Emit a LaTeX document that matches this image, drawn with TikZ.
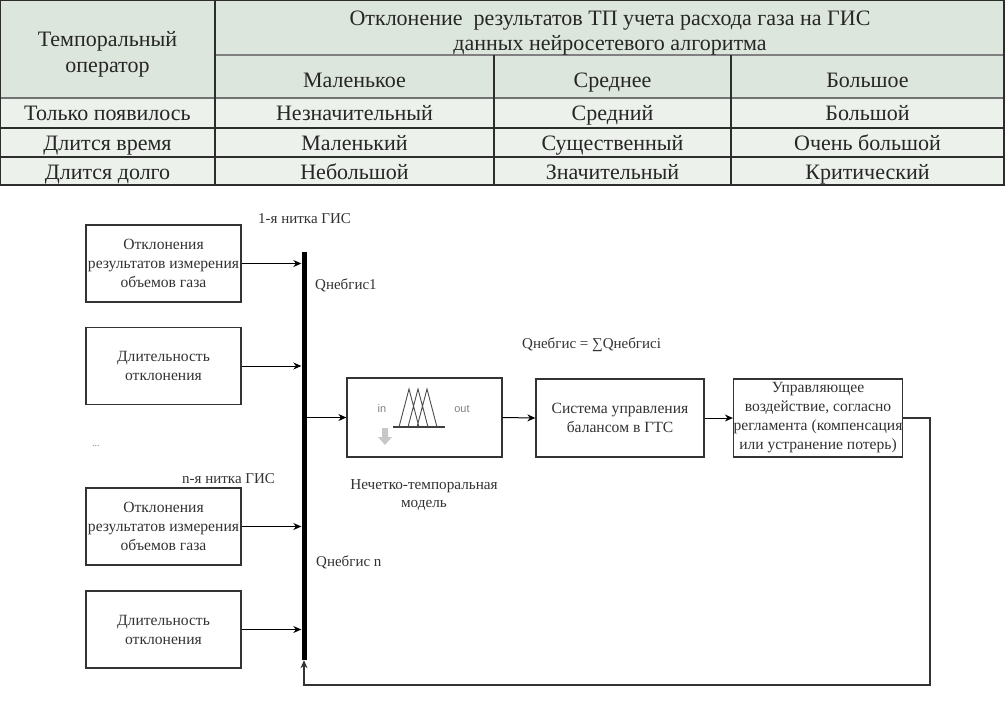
\documentclass[tikz,border=0pt]{standalone}
\usepackage{fontspec}
\setmainfont{Liberation Serif}
\newfontfamily\sansf{Liberation Sans}
\usetikzlibrary{arrows.meta}
\definecolor{hdr}{RGB}{221,230,220}
\definecolor{bdy}{RGB}{236,241,235}
\definecolor{gridc}{RGB}{45,45,45}
\definecolor{txt}{RGB}{50,50,50}
\begin{document}
\begin{tikzpicture}[x=1pt,y=-1pt,
  tcell/.style={font=\fontsize{22}{26}\selectfont, text=black!85, inner sep=0, anchor=base},
  box/.style={draw=black!80, line width=1.3pt, minimum width=155pt, minimum height=77pt, align=center, font=\fontsize{15.6}{19}\selectfont, text=txt, inner sep=0},
  lbl/.style={font=\fontsize{15}{17}\selectfont, text=txt, inner sep=0, anchor=west},
  arr/.style={-{Stealth[length=8pt,width=7pt]}, line width=1pt, black}
]
\useasboundingbox (0,0) rectangle (1006,705);
% ---------- table ----------
\fill[hdr] (0,0) rectangle (1004,98);
\fill[bdy] (0,98) rectangle (1004,185);
\draw[gray, line width=2pt] (215,55) -- (1004,55);
\draw[gray!90!black, line width=2pt] (0,98) -- (1004,98);
\draw[gridc, line width=1.2pt] (0,128) -- (1004,128) (0,157) -- (1004,157);
\draw[gridc, line width=1.2pt] (215,0) -- (215,185) (494,55) -- (494,185) (731,55) -- (731,185);
\draw[gridc, line width=1.4pt] (0,0) rectangle (1004,185);
\node[tcell] (h0a) at (107.5,46) {Темпоральный};
\node[tcell] (h0b) at (107.5,72) {оператор};
\node[tcell] (h1a) at (610,25) {Отклонение\ \ результатов ТП учета расхода газа на ГИС};
\node[tcell] (h1b) at (610,50) {данных нейросетевого алгоритма};
\node[tcell] (c1) at (354.5,87) {Маленькое};
\node[tcell] (c2) at (612.5,87) {Среднее};
\node[tcell] (c3) at (867.5,87) {Большое};
\node[tcell] (r1) at (107.5,120) {Только появилось};
\node[tcell] (r2) at (107.5,150) {Длится время};
\node[tcell] (r3) at (107.5,179) {Длится долго};
\node[tcell] (r1a) at (354.5,120) {Незначительный};
\node[tcell] (r1b) at (612.5,120) {Средний};
\node[tcell] (r1c) at (867.5,120) {Большой};
\node[tcell] (r2a) at (354.5,150) {Маленький};
\node[tcell] (r2b) at (612.5,150) {Существенный};
\node[tcell] (r2c) at (867.5,150) {Очень большой};
\node[tcell] (r3a) at (354.5,179) {Небольшой};
\node[tcell] (r3b) at (612.5,179) {Значительный};
\node[tcell] (r3c) at (867.5,179) {Критический};
% ---------- diagram ----------
\node[box] (b1) at (163.5,263.5) {Отклонения\\результатов измерения\\объемов газа};
\node[box] (b2) at (163.5,366) {Длительность\\отклонения};
\node[box] (b3) at (163.5,526.5) {Отклонения\\результатов измерения\\объемов газа};
\node[box] (b4) at (163.5,629.5) {Длительность\\отклонения};
\node[fill=black, minimum width=5pt, minimum height=408pt, inner sep=0] (bar) at (304,456) {};
\node[box, minimum height=79pt] (fz) at (424.5,417.5) {};
\node[box, minimum width=168pt, minimum height=78pt] (b5) at (620,418) {Система управления\\балансом в ГТС};
\node[box, minimum width=168pt, minimum height=78pt] (b6) at (818,418) {Управляющее\\воздействие, согласно\\регламента (компенсация\\или устранение потерь)};
\coordinate (fb) at (930,685);
% fuzzy icon
\draw[black!75, line width=1.2pt] (393,427) -- (445,427);
\draw[black!70, line width=0.9pt] (399,427) -- (409,389) -- (419,427) (408,427) -- (418,389) -- (428,427) (417,427) -- (427,389) -- (437,427);
\fill[black!22] (382,428) rectangle (388,437) (378,437) -- (392,437) -- (385,445) -- cycle;
\node[font=\sansf\fontsize{11}{13}\selectfont, text=black!50, inner sep=0] (in) at (382,409) {in};
\node[font=\sansf\fontsize{11}{13}\selectfont, text=black!50, inner sep=0] (out) at (462,409) {out};
\node[font=\fontsize{15.2}{18.5}\selectfont, text=txt, align=center, inner sep=0] (cap) at (424,495) {Нечетко-темпоральная\\модель};
% labels
\node[lbl] (l1) at (258,219) {1-я нитка ГИС};
\node[lbl] (q1) at (315,285) {Qнебгис1};
\node[lbl] (qs) at (522,345) {Qнебгис = ∑Qнебгисi};
\node[lbl] (ln) at (182,479) {n-я нитка ГИС};
\node[lbl] (qn) at (316,562) {Qнебгис n};
\node[lbl, font=\fontsize{10}{12}\selectfont, text=black!50] (dots) at (92,446) {...};
% arrows
\draw[arr] (b1.east) -- (b1.east -| bar.west);
\draw[arr] (b2.east) -- (b2.east -| bar.west);
\draw[arr] (b3.east) -- (b3.east -| bar.west);
\draw[arr] (b4.east) -- (b4.east -| bar.west);
\draw[arr] (fz.west -| bar.east) -- (fz.west);
\draw[arr] (fz.east) -- (b5.west);
\draw[arr] (b5.east) -- (b6.west);
\draw[arr, line width=1.2pt, black!80] (b6.east) -| (fb) -| (bar.south);
\end{tikzpicture}
\end{document}
